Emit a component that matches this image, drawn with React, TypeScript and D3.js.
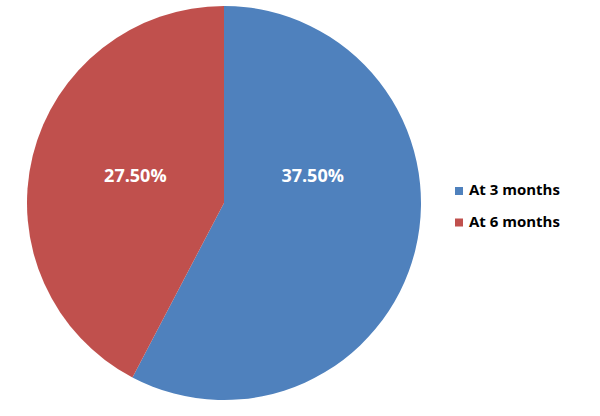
import React from "react";
import * as d3 from "d3";

const categories = ["At 3 months", "At 6 months"];
const values = [37.5, 27.5];
const labels = ["37.50%", "27.50%"];
const colors = ["#4F81BD", "#C0504D"];

const W = 600;
const H = 416;
const cx = 224;
const cy = 203;
const R = 197;

export default function App() {
  const pie = d3.pie<number>().sort(null).value((d) => d);
  const arcs = pie(values);
  const arc = d3.arc<d3.PieArcDatum<number>>().innerRadius(0).outerRadius(R);
  // label placement (Excel best-fit style): horizontal offset toward slice side, raised above center
  const labelPos = (a: d3.PieArcDatum<number>) => {
    const mid = (a.startAngle + a.endAngle) / 2;
    const side = Math.sin(mid) >= 0 ? 1 : -1;
    return [side * R * 0.45, -R * 0.14];
  };
  const legend = d3.scaleBand<string>().domain(categories).range([191, 254]);
  return (
    <svg width={W} height={H} style={{ position: "absolute", left: 0, top: 0 }}>
      <rect width={W} height={H} fill="#fff" />
      <g transform={`translate(${cx},${cy})`}>
        {arcs.map((a, i) => (
          <path key={i} d={arc(a) || ""} fill={colors[i]} />
        ))}
        {arcs.map((a, i) => {
          const [x, y] = labelPos(a);
          return (
            <text
              key={i}
              x={x}
              y={y}
              dy="0.35em"
              textAnchor="middle"
              fill="#fff"
              fontFamily="'Open Sans', sans-serif"
              fontWeight="bold"
              fontSize={18}
            >
              {labels[i]}
            </text>
          );
        })}
      </g>
      {categories.map((c, i) => {
        const y = legend(c)!;
        return (
          <g key={c} transform={`translate(455,${y})`}>
            <rect x={0} y={-4} width={8} height={8} fill={colors[i]} />
            <text
              x={14}
              y={0}
              dy="0.27em"
              fontFamily="'Open Sans', sans-serif"
              fontWeight="bold"
              fontSize={15}
              fill="#000"
            >
              {c}
            </text>
          </g>
        );
      })}
    </svg>
  );
}
